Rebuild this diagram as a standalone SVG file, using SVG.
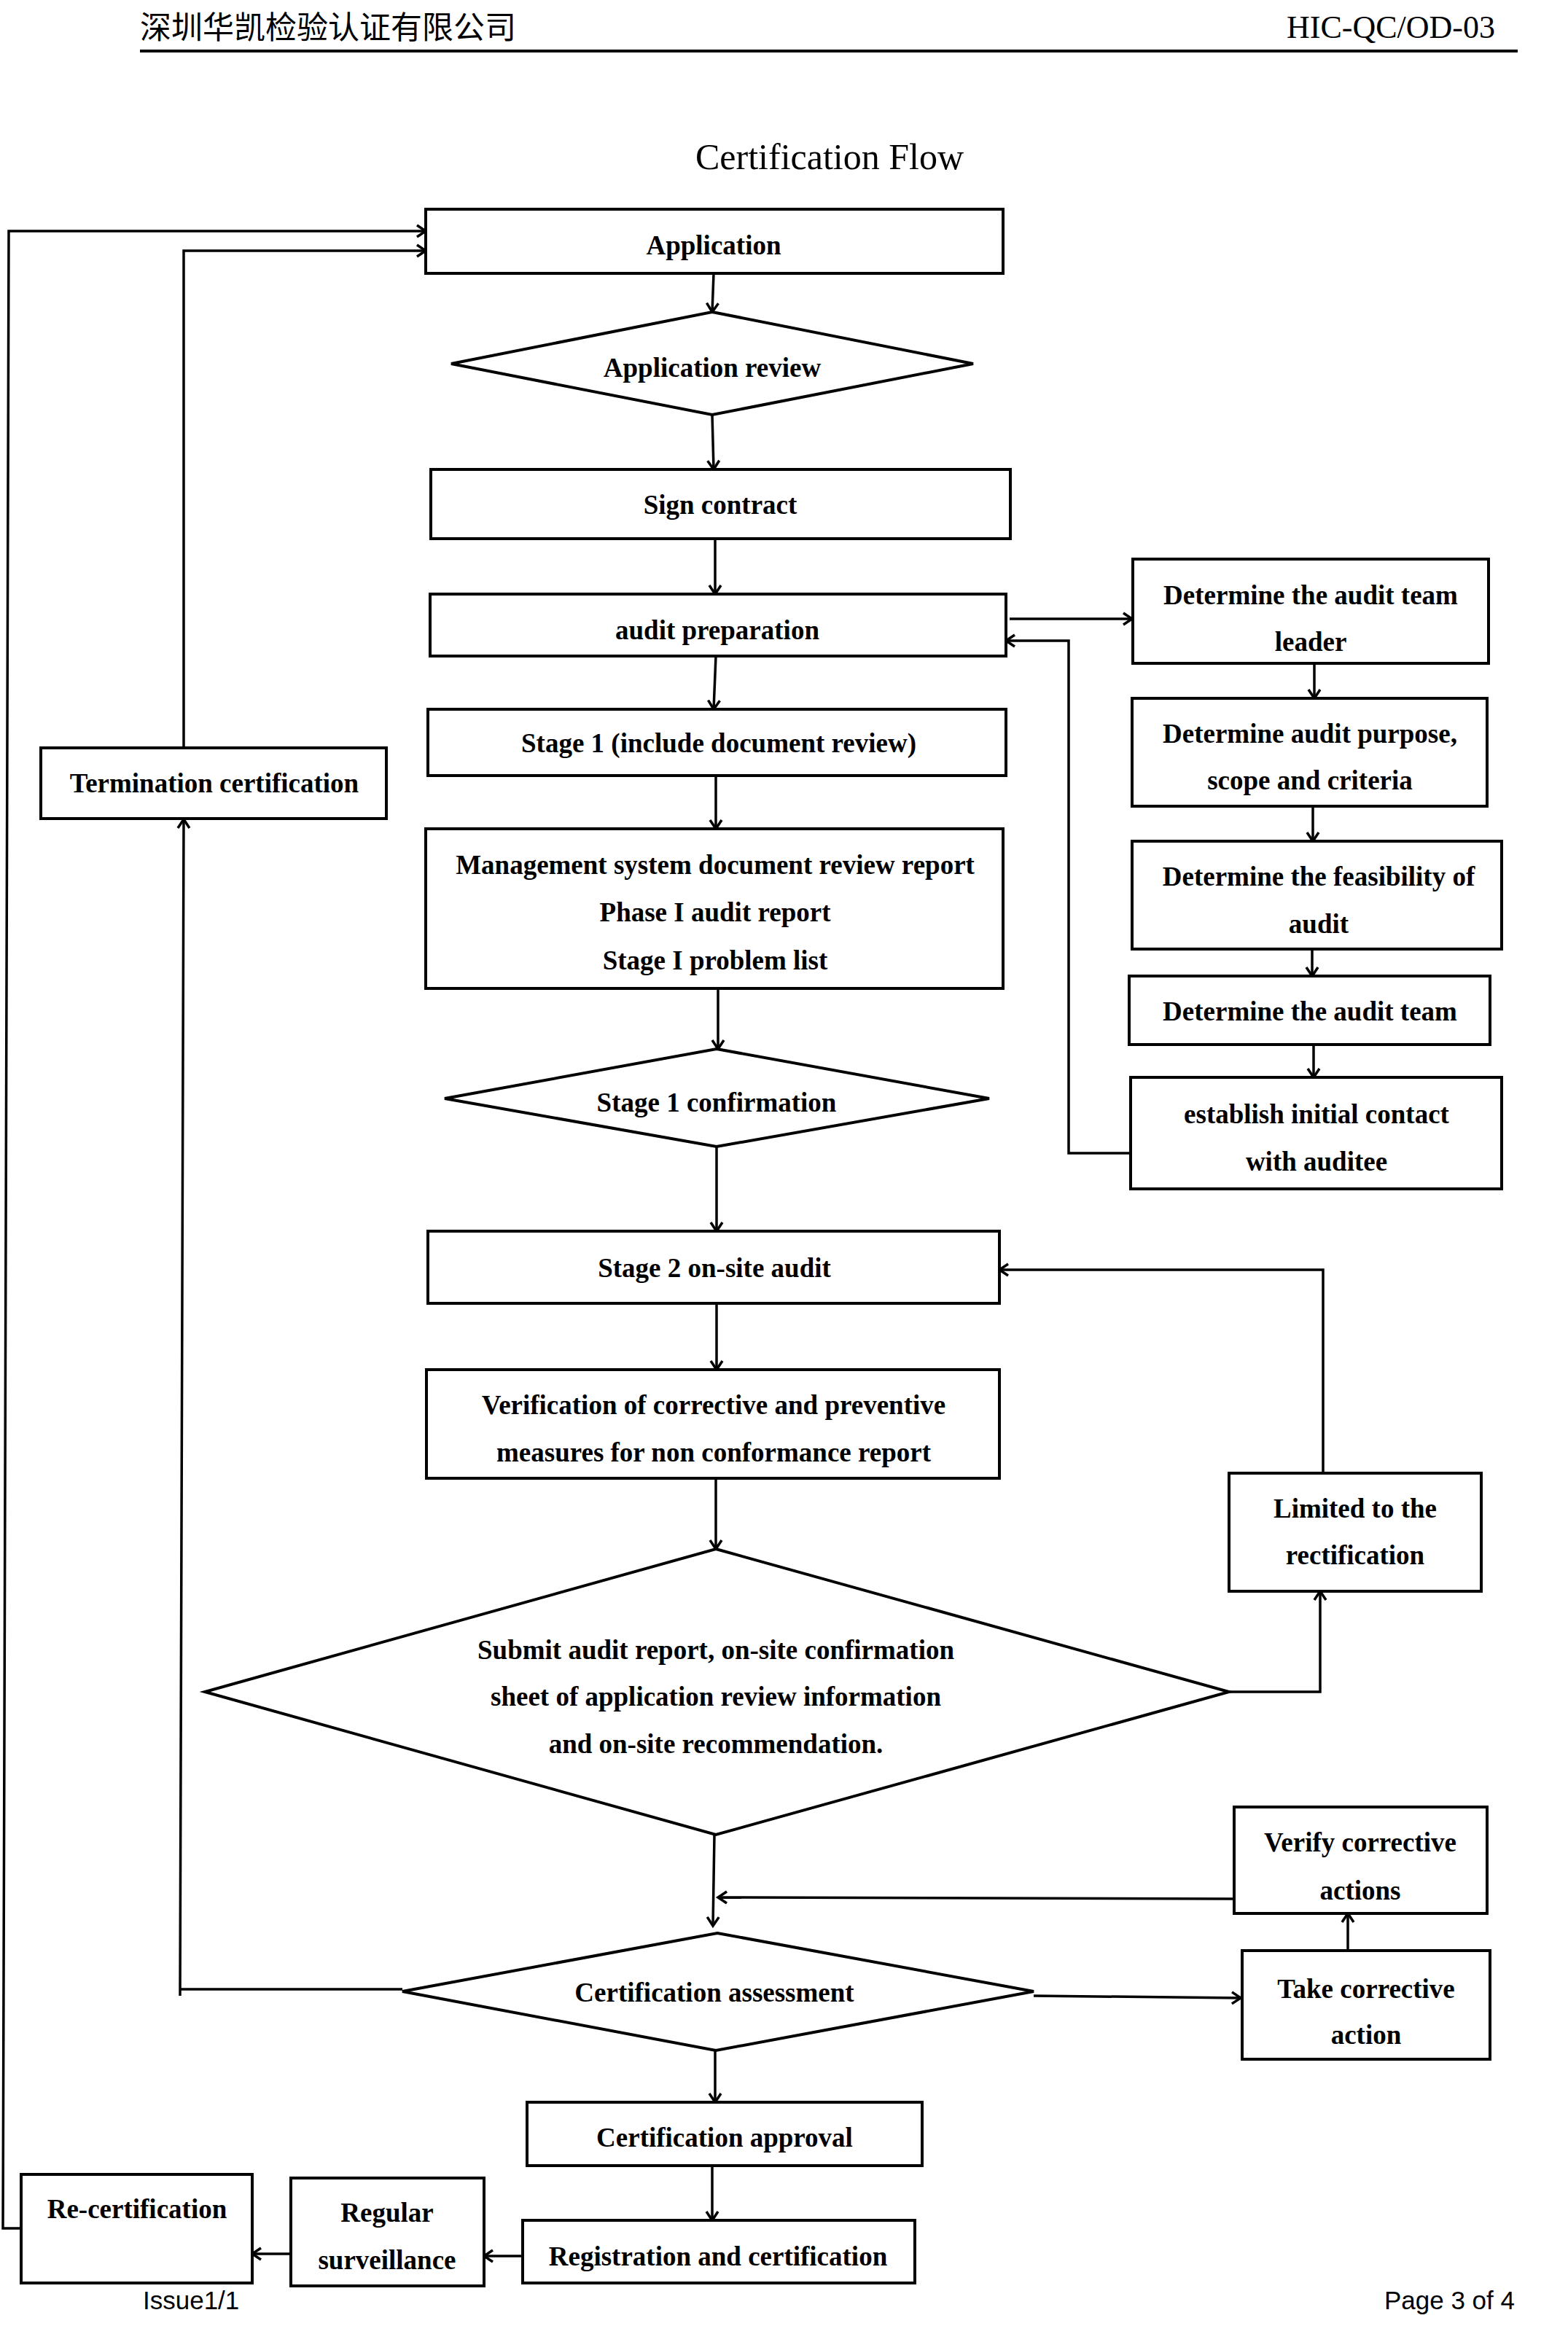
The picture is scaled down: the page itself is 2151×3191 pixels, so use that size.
<svg xmlns="http://www.w3.org/2000/svg" width="2151" height="3191" viewBox="0 0 2151 3191">
<style>
.bx{fill:#fff;stroke:#000;stroke-width:4}
.t{font-family:"Liberation Serif","Times New Roman",serif;font-weight:bold;font-size:37px;text-anchor:middle;fill:#000}
.c{fill:none;stroke:#000;stroke-width:3.5}
.hd{font-family:"Liberation Serif","Noto Sans CJK SC",serif;fill:#000}
.ft{font-family:"Liberation Sans",Arial,sans-serif;font-size:35px;fill:#000}
</style>
<defs>
<marker id="ah" markerUnits="userSpaceOnUse" markerWidth="24" markerHeight="24" viewBox="0 0 24 24" refX="19" refY="12" orient="auto">
<path d="M7,4 L19,12 L7,20" fill="none" stroke="#000" stroke-width="3.5"/>
</marker>
</defs>
<rect width="2151" height="3191" fill="#fff"/>
<g id="header">
<text class="hd" x="192" y="53" font-size="43">深圳华凯检验认证有限公司</text>
<text class="hd" x="2051" y="52" font-size="44" text-anchor="end">HIC-QC/OD-03</text>
<line x1="192" y1="70" x2="2082" y2="70" stroke="#000" stroke-width="4"/>
<text class="hd" x="1138" y="232" font-size="50" text-anchor="middle">Certification Flow</text>
</g>
<g id="connectors">
<polyline class="c" points="29,3057 4,3057 12,317 584,317" marker-end="url(#ah)"/>
<polyline class="c" points="252,1026 252,344 584,344" marker-end="url(#ah)"/>
<line class="c" x1="979" y1="375" x2="977" y2="428" marker-end="url(#ah)"/>
<line class="c" x1="977" y1="569" x2="979" y2="644" marker-end="url(#ah)"/>
<line class="c" x1="981" y1="739" x2="981" y2="815" marker-end="url(#ah)"/>
<line class="c" x1="982" y1="900" x2="979" y2="973" marker-end="url(#ah)"/>
<line class="c" x1="982" y1="1064" x2="982" y2="1137" marker-end="url(#ah)"/>
<line class="c" x1="985" y1="1356" x2="985" y2="1439" marker-end="url(#ah)"/>
<line class="c" x1="983" y1="1573" x2="983" y2="1689" marker-end="url(#ah)"/>
<line class="c" x1="983" y1="1788" x2="983" y2="1879" marker-end="url(#ah)"/>
<line class="c" x1="982" y1="2028" x2="982" y2="2125" marker-end="url(#ah)"/>
<line class="c" x1="980" y1="2517" x2="978" y2="2642" marker-end="url(#ah)"/>
<line class="c" x1="981" y1="2813" x2="981" y2="2884" marker-end="url(#ah)"/>
<line class="c" x1="977" y1="2971" x2="977" y2="3046" marker-end="url(#ah)"/>
<line class="c" x1="717" y1="3095" x2="664" y2="3095" stroke-width="5" marker-end="url(#ah)"/>
<line class="c" x1="399" y1="3092" x2="346" y2="3092" stroke-width="5" marker-end="url(#ah)"/>
<line class="c" x1="1385" y1="849" x2="1553" y2="849" marker-end="url(#ah)"/>
<polyline class="c" points="1551,1582 1466,1582 1466,879 1380,879" marker-end="url(#ah)"/>
<line class="c" x1="1803" y1="910" x2="1803" y2="958" marker-end="url(#ah)"/>
<line class="c" x1="1801" y1="1106" x2="1801" y2="1154" marker-end="url(#ah)"/>
<line class="c" x1="1800" y1="1302" x2="1800" y2="1339" marker-end="url(#ah)"/>
<line class="c" x1="1802" y1="1433" x2="1802" y2="1478" marker-end="url(#ah)"/>
<polyline class="c" points="1686,2321 1811,2321 1811,2183" marker-end="url(#ah)"/>
<polyline class="c" points="1815,2021 1815,1742 1371,1742" marker-end="url(#ah)"/>
<line class="c" x1="1693" y1="2605" x2="985" y2="2603" stroke-width="4.5" marker-end="url(#ah)"/>
<line class="c" x1="1849" y1="2676" x2="1849" y2="2625" marker-end="url(#ah)"/>
<line class="c" x1="1418" y1="2738" x2="1702" y2="2741" stroke-width="4.5" marker-end="url(#ah)"/>
<path class="c" d="M552,2729 L247,2729 M247,2738 L252,1124" marker-end="url(#ah)"/>
</g>
<g id="n-application"><rect class="bx" x="584" y="287" width="792" height="88"/><text class="t" x="979" y="349">Application</text></g>
<g id="n-application-review"><polygon class="bx" points="977,428 1335,499 977,569 619,499"/><text class="t" x="977" y="517">Application review</text></g>
<g id="n-sign-contract"><rect class="bx" x="591" y="644" width="795" height="95"/><text class="t" x="988" y="705">Sign contract</text></g>
<g id="n-audit-preparation"><rect class="bx" x="590" y="815" width="790" height="85"/><text class="t" x="984" y="877">audit preparation</text></g>
<g id="n-stage1"><rect class="bx" x="587" y="973" width="793" height="91"/><text class="t" x="986" y="1032">Stage 1 (include document review)</text></g>
<g id="n-ms-report"><rect class="bx" x="584" y="1137" width="792" height="219"/><text class="t" x="981" y="1199">Management system document review report</text><text class="t" x="981" y="1264">Phase I audit report</text><text class="t" x="981" y="1330">Stage I problem list</text></g>
<g id="n-stage1-confirmation"><polygon class="bx" points="983,1439 1357,1507 983,1573 610,1507"/><text class="t" x="983" y="1525">Stage 1 confirmation</text></g>
<g id="n-stage2"><rect class="bx" x="587" y="1689" width="784" height="99"/><text class="t" x="980" y="1752">Stage 2 on-site audit</text></g>
<g id="n-verification"><rect class="bx" x="585" y="1879" width="786" height="149"/><text class="t" x="979" y="1940">Verification of corrective and preventive</text><text class="t" x="979" y="2005">measures for non conformance report</text></g>
<g id="n-submit"><polygon class="bx" points="982,2125 1686,2321 982,2517 281,2321"/><text class="t" x="982" y="2276">Submit audit report, on-site confirmation</text><text class="t" x="982" y="2340">sheet of application review information</text><text class="t" x="982" y="2405">and on-site recommendation.</text></g>
<g id="n-cert-assessment"><polygon class="bx" points="984,2652 1418,2732 982,2813 552,2732"/><text class="t" x="980" y="2746">Certification assessment</text></g>
<g id="n-cert-approval"><rect class="bx" x="723" y="2884" width="542" height="87"/><text class="t" x="994" y="2945">Certification approval</text></g>
<g id="n-registration"><rect class="bx" x="717" y="3046" width="538" height="86"/><text class="t" x="985" y="3108">Registration and certification</text></g>
<g id="n-surveillance"><rect class="bx" x="399" y="2988" width="265" height="148"/><text class="t" x="531" y="3048">Regular</text><text class="t" x="531" y="3113">surveillance</text></g>
<g id="n-recertification"><rect class="bx" x="29" y="2983" width="317" height="149"/><text class="t" x="188" y="3043">Re-certification</text></g>
<g id="n-termination"><rect class="bx" x="56" y="1026" width="474" height="97"/><text class="t" x="294" y="1087">Termination certification</text></g>
<g id="n-team-leader"><rect class="bx" x="1554" y="767" width="488" height="143"/><text class="t" x="1798" y="829">Determine the audit team</text><text class="t" x="1798" y="893">leader</text></g>
<g id="n-purpose"><rect class="bx" x="1553" y="958" width="487" height="148"/><text class="t" x="1797" y="1019">Determine audit purpose,</text><text class="t" x="1797" y="1083">scope and criteria</text></g>
<g id="n-feasibility"><rect class="bx" x="1553" y="1154" width="507" height="148"/><text class="t" x="1809" y="1215">Determine the feasibility of</text><text class="t" x="1809" y="1280">audit</text></g>
<g id="n-audit-team"><rect class="bx" x="1549" y="1339" width="495" height="94"/><text class="t" x="1797" y="1400">Determine the audit team</text></g>
<g id="n-contact"><rect class="bx" x="1551" y="1478" width="509" height="153"/><text class="t" x="1806" y="1541">establish initial contact</text><text class="t" x="1806" y="1606">with auditee</text></g>
<g id="n-limited"><rect class="bx" x="1686" y="2021" width="346" height="162"/><text class="t" x="1859" y="2082">Limited to the</text><text class="t" x="1859" y="2146">rectification</text></g>
<g id="n-verify"><rect class="bx" x="1693" y="2479" width="347" height="146"/><text class="t" x="1866" y="2540">Verify corrective</text><text class="t" x="1866" y="2606">actions</text></g>
<g id="n-take"><rect class="bx" x="1704" y="2676" width="340" height="149"/><text class="t" x="1874" y="2741">Take corrective</text><text class="t" x="1874" y="2804">action</text></g>
<g id="footer">
<text class="ft" x="196" y="3168">Issue1/1</text>
<text class="ft" x="2078" y="3168" text-anchor="end">Page 3 of 4</text>
</g>
</svg>
